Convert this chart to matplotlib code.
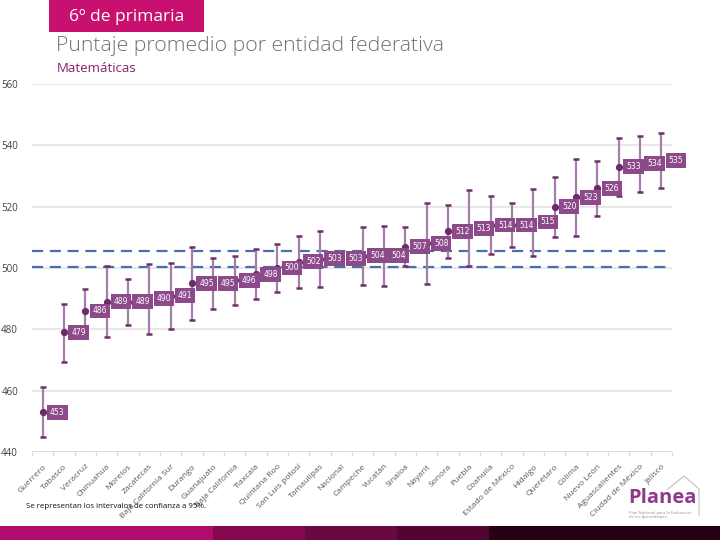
import numpy as np
import matplotlib
matplotlib.use("Agg")
import matplotlib.pyplot as plt
from matplotlib.patches import Rectangle

plt.rcParams['font.family'] = ['Open Sans', 'DejaVu Sans']

states = ["Guerrero", "Tabasco", "Veracruz", "Chihuahua", "Morelos", "Zacatecas",
          "Baja California Sur", "Durango", "Guanajuato", "Baja California", "Tlaxcala",
          "Quintana Roo", "San Luis potosí", "Tamaulipas", "Nacional", "Campeche",
          "Yucatán", "Sinaloa", "Nayarit", "Sonora", "Puebla", "Coahuila",
          "Estado de México", "Hidalgo", "Querétaro", "Colima", "Nuevo León",
          "Aguascalientes", "Ciudad de México", "Jalisco"]
scores = [453, 479, 486, 489, 489, 490, 491, 495, 495, 496, 498, 500, 502, 503, 503,
          504, 504, 507, 508, 512, 513, 514, 514, 515, 520, 523, 526, 533, 534, 535]
lower = [445.0, 469.4, 478.7, 477.5, 481.5, 478.6, 480.1, 483.1, 486.7, 488.0, 490.0,
         492.3, 493.6, 493.9, np.nan, 494.5, 494.1, 500.7, 494.8, 503.4, 500.7, 504.6,
         506.8, 503.9, 510.1, 510.4, 516.9, 523.5, 524.8, 526.1]
upper = [461.3, 488.3, 493.3, 500.8, 496.5, 501.4, 501.7, 506.9, 503.4, 504.0, 506.3,
         507.8, 510.5, 512.2, np.nan, 513.5, 513.8, 513.5, 521.3, 520.6, 525.4, 523.6,
         521.3, 525.8, 529.6, 535.6, 534.9, 542.4, 543.0, 544.0]
nacional_ci = [500.4, 505.6]
yticks = [440, 460, 480, 500, 520, 540, 560]

W, H = 720, 540
fig = plt.figure(figsize=(7.2, 5.4), dpi=100)

def fx(x):
    return x / W

def fy(y):
    return 1 - y / H

ax = fig.add_axes([fx(32), fy(452), fx(672) - fx(32), fy(84) - fy(452)])
ax.set_xlim(-0.5, len(states) - 0.5)
ax.set_ylim(440, 560)

x = np.arange(len(states))
lo = np.array(lower)
up = np.array(upper)
m = ~np.isnan(lo)

# gridlines
for t in yticks:
    ax.axhline(t, color='#e6e6e6' if t != 440 else '#d9d9d9', lw=1.3, zorder=0)

# national CI dashed lines
for v in nacional_ci:
    ax.axhline(v, color='#4a72aa', lw=1.6, ls=(0, (5, 3)), zorder=1)

ax.vlines(x[m], lo[m], up[m], color='#a47fab', lw=1.6, zorder=2)
ax.plot(x[m], lo[m], ls='none', marker='_', ms=5, mew=1.8, color='#6e306c', zorder=3)
ax.plot(x[m], up[m], ls='none', marker='_', ms=5, mew=1.8, color='#6e306c', zorder=3)
ax.plot(x, scores, ls='none', marker='o', ms=4.2, color='#6e2a6a', zorder=4)

for xi, s in zip(x, scores):
    ax.annotate(f"{s}", (xi, s), xytext=(5.3, 0), textcoords='offset points',
                ha='left', va='center', fontsize=5.5, color='white',
                family='DejaVu Sans', zorder=5,
                bbox=dict(boxstyle='square,pad=0.38', fc='#8c4a8a', ec='none'))

for sp in ax.spines.values():
    sp.set_visible(False)

ax.set_yticks(yticks)
ax.set_yticklabels([str(t) for t in yticks], fontsize=7, color='#404040')
ax.tick_params(axis='y', length=0, pad=10)

ax.set_xticks(x)
ax.set_xticklabels(states, rotation=45, ha='right', rotation_mode='anchor',
                   fontsize=6.1, color='#595959')
ax.tick_params(axis='x', length=0, pad=8)
ax.set_xticks(np.arange(len(states) + 1) - 0.5, minor=True)
ax.tick_params(axis='x', which='minor', length=3, color='#d9d9d9', width=1)

# header
fig.patches.append(Rectangle((fx(49), fy(32)), fx(204) - fx(49), fy(0) - fy(32),
                             transform=fig.transFigure, fc='#c8106f', ec='none'))
fig.text(fx(69), fy(17), "6º de primaria", color='white', fontsize=12.5,
         va='center', ha='left')
fig.text(fx(56), fy(46), "Puntaje promedio por entidad federativa", color='#707070',
         fontsize=15.3, va='center', ha='left', fontweight='light')
fig.text(fx(57), fy(68), "Matemáticas", color='#8a1d6e', fontsize=9.5,
         va='center', ha='left')

# footer note
fig.text(fx(26), fy(506), "Se representan los intervalos de confianza a 95%.",
         color='#111111', fontsize=5.7, va='center', ha='left')

# bottom band
bands = [(0, 213, '#b00c6e'), (213, 305, '#86094f'), (305, 397, '#6b0840'),
         (397, 489, '#520532'), (489, 720, '#280015')]
for x0, x1, c in bands:
    fig.patches.append(Rectangle((fx(x0), 0), fx(x1) - fx(x0), fy(526),
                                 transform=fig.transFigure, fc=c, ec='none'))

# logo
fig.text(fx(628), fy(498), "Planea", color='#8e3a8a', fontsize=14.5, fontweight='bold',
         va='center', ha='left')
fig.add_artist(plt.Line2D([fx(668), fx(684), fx(699), fx(699)],
                          [fy(489), fy(476), fy(489), fy(515)],
                          transform=fig.transFigure, color='#b8b8b8', lw=0.7))
fig.text(fx(629), fy(515), "Plan Nacional para la Evaluación\nde los Aprendizajes",
         color='#909090', fontsize=3.0, va='center', ha='left', linespacing=1.1)

fig.savefig("out.png", dpi=100)
